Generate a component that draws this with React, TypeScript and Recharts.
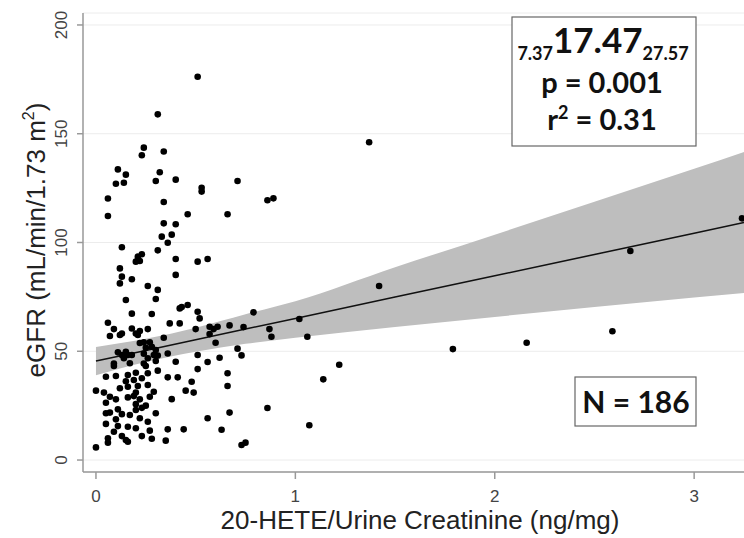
import React from "react";
import {
  ComposedChart,
  Area,
  Line,
  Scatter,
  XAxis,
  YAxis,
  CartesianGrid,
} from "recharts";

// regression fit and 95% band
const bandX = [0, 0.25, 0.5, 0.75, 1, 1.5, 2, 2.5, 3, 3.25];
const bandLow = [39.0, 45.1, 49.8, 53.4, 56.2, 61.2, 65.8, 70.3, 74.7, 76.8];
const bandHigh = [52.0, 55.7, 60.8, 67.0, 73.0, 88.6, 103.6, 118.7, 133.9, 141.6];
const fitY = [45.5, 50.4, 55.3, 60.2, 65.1, 74.9, 84.7, 94.5, 104.3, 109.2];

const xTicks = [0, 1, 2, 3];
const yTicks = [0, 50, 100, 150, 200];

// [20-HETE/UCr, eGFR]
const points: [number, number][] = [
  [1.37, 146.1], [1.42, 80.0], [1.02, 64.8], [1.06, 56.7], [1.22, 43.8], [1.14, 37.1],
  [1.07, 16.0], [1.79, 51.0], [2.16, 53.9], [2.59, 59.2], [2.68, 96.1], [3.24, 111.1],
  [0.51, 91.2], [0.56, 92.4], [0.51, 68.2], [0.52, 65.1], [0.5, 60.2], [0.57, 61.3],
  [0.59, 60.2], [0.61, 61.3], [0.57, 57.9], [0.67, 61.9], [0.74, 61.1], [0.79, 67.9],
  [0.87, 60.2], [0.88, 56.7], [0.6, 53.9], [0.51, 48.3], [0.71, 51.2], [0.73, 48.1],
  [0.62, 47.0], [0.56, 45.1], [0.51, 41.8], [0.66, 39.9], [0.66, 34.0], [0.86, 23.9],
  [0.67, 21.8], [0.56, 19.2], [0.63, 13.9], [0.73, 6.9], [0.75, 8.0],
  [0.51, 176.2], [0.53, 125.2], [0.53, 123.4], [0.71, 128.3], [0.66, 113.0], [0.86, 119.4],
  [0.89, 120.3],
  [0.31, 158.9], [0.24, 143.6], [0.23, 140.1], [0.34, 141.8], [0.11, 133.6], [0.15, 131.2],
  [0.1, 127.0], [0.14, 127.5], [0.32, 132.3], [0.3, 128.3], [0.4, 128.9], [0.06, 120.2],
  [0.06, 112.2], [0.34, 118.6], [0.46, 113.0], [0.34, 108.8], [0.4, 108.4], [0.33, 102.7],
  [0.38, 103.6], [0.36, 99.9], [0.13, 97.8], [0.31, 96.4], [0.23, 94.6], [0.4, 92.4],
  [0.21, 93.5], [0.2, 91.2], [0.22, 91.5], [0.12, 88.1], [0.4, 85.1], [0.13, 84.3],
  [0.18, 83.1], [0.12, 81.2], [0.26, 80.0], [0.31, 78.2], [0.3, 74.0], [0.15, 73.6],
  [0.18, 67.3], [0.28, 67.1], [0.42, 69.7], [0.43, 70.3], [0.46, 71.3], [0.06, 63.1],
  [0.09, 60.2], [0.07, 57.0], [0.12, 57.5], [0.13, 58.2], [0.18, 60.5], [0.2, 58.2],
  [0.22, 59.3], [0.21, 57.5], [0.26, 60.2], [0.37, 62.8], [0.42, 62.8], [0.34, 56.2],
  [0.22, 53.8], [0.24, 54.1], [0.27, 54.1], [0.25, 51.6], [0.28, 52.1], [0.3, 50.6],
  [0.11, 49.5], [0.13, 48.3], [0.15, 49.8], [0.16, 48.3], [0.14, 46.8], [0.18, 48.3],
  [0.24, 48.9], [0.26, 46.8], [0.29, 48.3], [0.31, 48.0], [0.3, 45.5], [0.36, 49.0],
  [0.4, 45.2], [0.09, 44.4], [0.24, 44.4],
  [0.09, 43.2], [0.25, 43.2], [0.31, 41.1], [0.26, 39.9], [0.05, 38.3], [0.1, 38.6],
  [0.16, 39.1], [0.2, 40.1], [0.19, 36.8], [0.23, 37.6], [0.36, 38.0], [0.41, 38.0],
  [0.0, 31.9], [0.04, 31.0], [0.12, 33.0], [0.16, 33.7], [0.21, 34.0], [0.26, 34.5],
  [0.29, 31.4], [0.45, 31.9], [0.49, 31.0], [0.48, 36.0], [0.07, 29.1], [0.1, 27.9],
  [0.16, 28.8], [0.19, 29.4], [0.22, 27.9], [0.27, 29.1], [0.38, 28.0], [0.05, 26.3],
  [0.2, 25.7], [0.25, 25.0], [0.11, 23.3], [0.2, 23.0], [0.05, 21.5], [0.07, 21.8],
  [0.13, 21.1], [0.17, 20.7], [0.3, 21.5], [0.22, 19.2], [0.1, 18.7], [0.26, 17.6],
  [0.05, 16.6], [0.11, 15.6], [0.16, 15.3], [0.2, 14.6], [0.36, 14.1], [0.44, 14.1],
  [0.09, 13.0], [0.27, 13.5], [0.13, 11.0], [0.23, 11.0], [0.06, 10.0], [0.28, 9.8],
  [0.15, 9.2], [0.16, 8.4], [0.35, 8.9], [0.06, 8.0], [0.0, 5.8],
  [0.15, 36.2], [0.2, 31.0], [0.17, 44.5], [0.23, 24.0],
];

const bandRows = bandX.map((x, i) => ({
  x,
  band: [bandLow[i], bandHigh[i]],
  fit: fitY[i],
}));
const scatterRows = points.map(([x, y]) => ({ x, y }));

const axisFont = "'Liberation Sans', Arial, sans-serif";
const boxFont = "Lato, 'Open Sans', sans-serif";

if (typeof document !== "undefined") document.body.style.margin = "0";

const YTick = (props: any) => {
  const { x, y, payload } = props;
  return (
    <text
      transform={`translate(${x - 8},${y}) rotate(-90)`}
      textAnchor="middle"
      fontSize={17}
      fill="#444"
      fontFamily={axisFont}
    >
      {payload.value}
    </text>
  );
};

const XTick = (props: any) => {
  const { x, y, payload } = props;
  return (
    <text x={x} y={y} dy="0.71em" textAnchor="middle" fontSize={17} fill="#444" fontFamily={axisFont}>
      {payload.value}
    </text>
  );
};

const Dot = (props: any) => <circle cx={props.cx} cy={props.cy} r={3.3} fill="#000" />;

export default function App() {
  return (
    <div style={{ position: "relative", width: 744, height: 538, background: "#fff" }}>
      <ComposedChart
        width={744}
        height={538}
        data={bandRows}
        margin={{ top: 13, right: 0, bottom: 0, left: 0 }}
      >
        <CartesianGrid vertical={false} stroke="#ececec" />
        <XAxis
          type="number"
          dataKey="x"
          domain={[-0.065, 3.25]}
          ticks={xTicks}
          allowDataOverflow
          height={66}
          tickSize={7}
          tickMargin={11}
          stroke="#999"
          strokeWidth={1.5}
          tick={<XTick />}
        />
        <YAxis
          type="number"
          domain={[-5.5, 205.5]}
          ticks={yTicks}
          allowDataOverflow
          width={83}
          tickSize={6}
          stroke="#999"
          strokeWidth={1.5}
          tick={<YTick />}
        />
        <Area
          dataKey="band"
          type="monotone"
          stroke="none"
          fill="#bebebe"
          fillOpacity={1}
          isAnimationActive={false}
        />
        <Scatter data={scatterRows} dataKey="y" shape={<Dot />} isAnimationActive={false} />
        <Line
          dataKey="fit"
          type="linear"
          stroke="#111"
          strokeWidth={1.5}
          dot={false}
          isAnimationActive={false}
        />
      </ComposedChart>
      <svg
        width={744}
        height={538}
        style={{ position: "absolute", left: 0, top: 0, pointerEvents: "none" }}
      >
        <text x={420} y={529} textAnchor="middle" fontSize={26} fill="#222" fontFamily={axisFont}>
          20-HETE/Urine Creatinine (ng/mg)
        </text>
        <text
          transform="translate(45,240) rotate(-90)"
          textAnchor="middle"
          fontSize={26}
          fill="#222"
          fontFamily={axisFont}
        >
          eGFR (mL/min/1.73 m
          <tspan fontSize={16} dy={-11}>2</tspan>
          <tspan dy={11}>)</tspan>
        </text>

        <rect x={512} y={17} width={184} height={129} fill="#fff" stroke="#666" strokeWidth={1.2} />
        <text x={603} y={53} textAnchor="middle" fontFamily={boxFont} fontWeight="bold" fill="#111">
          <tspan fontSize={18} dy={7}>7.37</tspan>
          <tspan fontSize={35} dy={-7}>17.47</tspan>
          <tspan fontSize={18} dy={7}>27.57</tspan>
        </text>
        <text x={602} y={93} textAnchor="middle" fontSize={29} fontFamily={boxFont} fontWeight="bold" fill="#111">
          p = 0.001
        </text>
        <text x={602} y={130} textAnchor="middle" fontSize={29} fontFamily={boxFont} fontWeight="bold" fill="#111">
          r<tspan fontSize={18} dy={-11}>2</tspan>
          <tspan dy={11}> = 0.31</tspan>
        </text>

        <rect x={575} y={377} width={121} height={49} fill="#fff" stroke="#666" strokeWidth={1.2} />
        <text x={636} y={413} textAnchor="middle" fontSize={30} fontFamily={boxFont} fontWeight="bold" fill="#111">
          N = 186
        </text>
      </svg>
    </div>
  );
}
